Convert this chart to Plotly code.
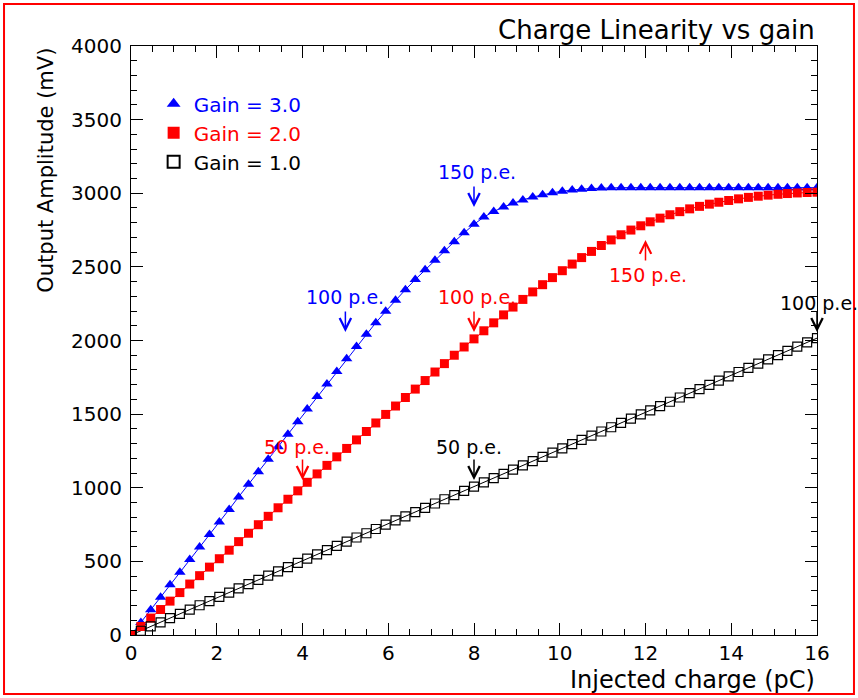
import plotly.graph_objects as go

# Injected charge (pC)
charge = [0.00, 0.23, 0.46, 0.69, 0.91, 1.14, 1.37, 1.60, 1.83, 2.06,
          2.29, 2.51, 2.74, 2.97, 3.20, 3.43, 3.66, 3.89, 4.11, 4.34,
          4.57, 4.80, 5.03, 5.26, 5.49, 5.71, 5.94, 6.17, 6.40, 6.63,
          6.86, 7.09, 7.31, 7.54, 7.77, 8.00, 8.23, 8.46, 8.69, 8.91,
          9.14, 9.37, 9.60, 9.83, 10.06, 10.29, 10.51, 10.74, 10.97, 11.20,
          11.43, 11.66, 11.89, 12.11, 12.34, 12.57, 12.80, 13.03, 13.26, 13.49,
          13.71, 13.94, 14.17, 14.40, 14.63, 14.86, 15.09, 15.31, 15.54, 15.77,
          16.00]

# Output amplitude (mV) for each gain
gain3 = [0, 85, 171, 256, 341, 426, 512, 597, 682, 767,
         853, 938, 1023, 1108, 1194, 1279, 1364, 1449, 1535, 1620,
         1705, 1790, 1876, 1960, 2042, 2121, 2198, 2273, 2345, 2414,
         2480, 2545, 2609, 2671, 2731, 2789, 2838, 2876, 2907, 2933,
         2955, 2974, 2990, 3003, 3014, 3022, 3028, 3032, 3035, 3037,
         3038, 3038, 3038, 3038, 3038, 3038, 3038, 3038, 3038, 3038,
         3038, 3038, 3038, 3038, 3038, 3038, 3038, 3038, 3038, 3038,
         3038]

gain2 = [0, 58, 115, 173, 230, 288, 346, 403, 461, 518,
         576, 634, 691, 749, 806, 864, 922, 979, 1037, 1094,
         1152, 1210, 1267, 1325, 1382, 1440, 1498, 1555, 1613, 1670,
         1728, 1786, 1843, 1900, 1956, 2011, 2066, 2120, 2174, 2227,
         2279, 2330, 2379, 2427, 2474, 2519, 2563, 2605, 2645, 2683,
         2718, 2750, 2779, 2806, 2831, 2854, 2875, 2894, 2911, 2926,
         2939, 2951, 2962, 2972, 2980, 2987, 2993, 2998, 3002, 3005,
         3007]

gain1 = [0, 29, 58, 86, 115, 144, 173, 202, 230, 259,
         288, 317, 346, 374, 403, 432, 461, 490, 518, 547,
         576, 605, 634, 662, 691, 720, 749, 778, 806, 835,
         864, 893, 922, 950, 979, 1008, 1037, 1066, 1094, 1123,
         1152, 1181, 1210, 1238, 1267, 1296, 1325, 1354, 1382, 1411,
         1440, 1469, 1498, 1526, 1555, 1584, 1613, 1642, 1670, 1699,
         1728, 1757, 1786, 1814, 1843, 1872, 1901, 1930, 1958, 1987,
         2016]

series_names = ["Gain = 3.0", "Gain = 2.0", "Gain = 1.0"]
series_colors = ["#0000ff", "#ff0000", "#000000"]
series_symbols = ["triangle-up", "square", "square-open"]
series_sizes = [10, 9, 9]
series_values = [gain3, gain2, gain1]

# p.e. markers: (text, text x, text y, arrow tip x, arrow tip y, direction, colour)
pe_labels = [
    ("150 p.e.", 8.06, 3144, 8, 2907, "down", "#0000ff"),
    ("100 p.e.", 4.98, 2295, 5, 2058, "down", "#0000ff"),
    ("150 p.e.", 12.05, 2445, 12, 2683, "up", "#ff0000"),
    ("100 p.e.", 8.08, 2295, 8, 2058, "down", "#ff0000"),
    ("50 p.e.", 3.88, 1277, 4, 1053, "down", "#ff0000"),
    ("50 p.e.", 7.88, 1277, 8, 1053, "down", "#000000"),
]

FONT = "DejaVu Sans"

fig = go.Figure()

# connecting lines (no legend)
for vals, col in zip(series_values, series_colors):
    fig.add_trace(go.Scatter(x=charge, y=vals, mode="lines", showlegend=False,
                             hoverinfo="skip", line=dict(color=col, width=1)))

# markers (with legend)
for vals, name, col, sym, sz in zip(series_values, series_names, series_colors,
                                    series_symbols, series_sizes):
    fig.add_trace(go.Scatter(
        x=charge, y=vals, mode="markers",
        name='<span style="color:' + col + '">' + name + "</span>",
        marker=dict(symbol=sym, size=sz, color=col,
                    line=dict(width=1.2 if sym.endswith("open") else 0, color=col)),
    ))

annotations = []
for text, tx, ty, ax_, ay_, direction, col in pe_labels:
    annotations.append(dict(x=tx, y=ty, xref="x", yref="y", text=text, showarrow=False,
                            font=dict(family=FONT, size=19, color=col),
                            xanchor="center", yanchor="middle"))
    annotations.append(dict(x=ax_, y=ay_, xref="x", yref="y", text="", showarrow=True,
                            arrowhead=5, arrowsize=1.5, arrowwidth=1.5, arrowcolor=col,
                            ax=0, ay=(-22 if direction == "down" else 22), standoff=0))

# black 100 p.e. at the right edge
annotations.append(dict(x=15.09, y=2255, xref="x", yref="y", text="100 p.e.", showarrow=False,
                        font=dict(family=FONT, size=19, color="#000000"),
                        xanchor="left", yanchor="middle"))
annotations.append(dict(x=16, y=2058, xref="x", yref="y", text="", showarrow=True,
                        arrowhead=5, arrowsize=1.5, arrowwidth=1.5, arrowcolor="#000000",
                        ax=0, ay=-22, standoff=0))

# titles
annotations.append(dict(x=1, y=1.027, xref="paper", yref="paper", text="Charge Linearity vs gain",
                        showarrow=False, xanchor="right", yanchor="middle",
                        font=dict(family=FONT, size=26, color="#000000")))
annotations.append(dict(x=1, y=-0.077, xref="paper", yref="paper", text="Injected charge (pC)",
                        showarrow=False, xanchor="right", yanchor="middle",
                        font=dict(family=FONT, size=24, color="#000000")))
annotations.append(dict(x=-0.125, y=1, xref="paper", yref="paper", text="Output Amplitude (mV)",
                        showarrow=False, xanchor="center", yanchor="top", textangle=-90,
                        font=dict(family=FONT, size=21, color="#000000")))

fig.update_layout(
    width=858, height=698,
    margin=dict(l=131, r=41, t=46, b=63),
    paper_bgcolor="white", plot_bgcolor="white",
    font=dict(family=FONT, size=20, color="#000000"),
    showlegend=True,
    legend=dict(x=0.033, y=0.935, xanchor="left", yanchor="top",
                bgcolor="rgba(0,0,0,0)", font=dict(family=FONT, size=20),
                itemsizing="constant", tracegroupgap=0),
    annotations=annotations,
    shapes=[dict(type="rect", xref="paper", yref="paper",
                 x0=-0.1851, x1=1.0539, y0=-0.1002, y1=1.0713,
                 line=dict(color="#ff0000", width=2), fillcolor="rgba(0,0,0,0)")],
)

axis_common = dict(showgrid=False, zeroline=False, showline=True, linecolor="black", linewidth=1,
                   mirror="allticks", ticks="inside", ticklen=12, tickwidth=1, tickcolor="black",
                   tickfont=dict(family=FONT, size=20, color="black"))
fig.update_xaxes(range=[0, 16], dtick=2, tick0=0,
                 minor=dict(dtick=0.5, ticks="inside", ticklen=6, tickcolor="black", showgrid=False),
                 **axis_common)
fig.update_yaxes(range=[0, 4000], dtick=500, tick0=0, ticklabelstandoff=4,
                 minor=dict(dtick=100, ticks="inside", ticklen=6, tickcolor="black", showgrid=False),
                 **axis_common)

fig.write_html("out.html")
